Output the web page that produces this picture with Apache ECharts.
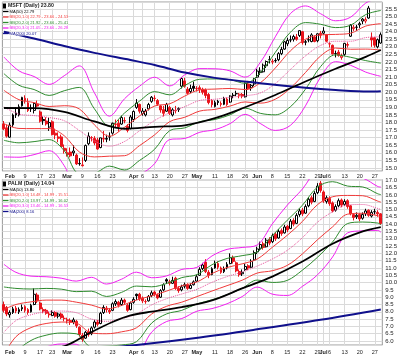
<!DOCTYPE html>
<html><head><meta charset="utf-8">
<script src="https://cdn.jsdelivr.net/npm/echarts@6/dist/echarts.min.js"></script>
<style>html,body{margin:0;padding:0;background:#fff}#c{width:400px;height:360px}</style>
</head><body><div id="c"></div>
<script>
// ---------- categories (trading days) ----------
const firstDay = '2009-01-29', lastDay = '2009-07-29';
const holidays = ['2009-02-16','2009-04-10','2009-05-25','2009-07-03'];
const dates = [];
for (let d = new Date(firstDay + 'T00:00:00Z'); d <= new Date(lastDay + 'T00:00:00Z'); d.setUTCDate(d.getUTCDate() + 1)) {
  const wd = d.getUTCDay(), s = d.toISOString().slice(0, 10);
  if (wd === 0 || wd === 6 || holidays.includes(s)) continue;
  dates.push(s);
}
const N = dates.length;

// ---------- tick labels ----------
const tickDates = ['2009-02-02','2009-02-09','2009-02-17','2009-02-23','2009-03-02','2009-03-09','2009-03-16','2009-03-23','2009-04-01','2009-04-06','2009-04-13','2009-04-20','2009-04-27','2009-05-01','2009-05-11','2009-05-18','2009-05-26','2009-06-01','2009-06-08','2009-06-15','2009-06-22','2009-06-29','2009-07-01','2009-07-06','2009-07-13','2009-07-20','2009-07-27'];
const tickLabels = ['Feb','9','17','23','Mar','9','16','23','Apr','6','13','20','27','May','11','18','26','Jun','8','15','22','29','Jul','6','13','20','27'];

// ---------- MSFT [open, close, low, high] ----------
const msftOHLC = [
[17.90,17.59,17.50,18.10],[17.65,17.10,17.00,17.85],[17.03,17.83,17.00,18.00],[17.85,18.50,17.70,18.60],[18.50,18.63,18.30,19.00],
[18.50,19.04,18.40,19.20],[19.10,19.66,19.05,19.70],[19.60,19.44,19.25,19.80],[19.30,18.80,18.70,19.60],[18.90,18.95,18.70,19.20],
[18.80,19.26,18.60,19.35],[19.20,19.09,19.00,19.45],[18.70,18.09,18.00,18.80],[18.20,18.12,17.85,18.40],[18.10,17.91,17.80,18.35],
[17.70,18.00,17.45,18.30],[18.05,17.21,17.15,18.15],[17.30,17.17,16.90,17.60],[17.05,16.96,16.70,17.35],[17.05,16.42,16.40,17.20],
[16.30,16.15,15.95,16.55],[16.00,15.88,15.75,16.30],[16.05,15.80,15.70,16.35],[16.00,16.12,15.80,16.50],[15.85,15.27,15.20,15.95],
[15.30,15.28,15.15,15.65],[15.20,15.15,15.10,15.70],[15.50,16.48,15.40,16.55],[16.60,17.11,16.50,17.35],[17.00,17.01,16.75,17.10],
[16.95,16.65,16.50,17.10],[16.85,16.25,16.20,17.00],[16.35,16.99,16.30,17.00],[16.95,16.91,16.70,17.45],[16.90,16.95,16.70,17.20],
[17.05,17.06,16.80,17.35],[17.30,17.95,17.20,18.00],[17.90,17.88,17.65,18.20],[17.95,17.72,17.40,18.20],[17.90,18.33,17.85,18.45],
[18.10,18.13,17.95,18.35],[17.75,17.48,17.35,17.90],[17.60,18.37,17.55,18.50],[18.20,18.73,18.05,18.80],[19.00,19.29,18.90,19.55],
[19.20,18.75,18.60,19.25],[18.60,18.76,18.45,18.95],[18.50,18.76,18.40,18.90],[18.90,19.19,18.80,19.30],[19.40,19.67,19.30,19.75],
[19.60,19.59,19.40,19.80],[19.45,19.21,19.10,19.55],[19.10,18.83,18.65,19.15],[18.85,18.61,18.40,19.10],[18.75,19.20,18.70,19.30],
[19.00,18.61,18.50,19.10],[18.50,18.84,18.40,18.95],[18.80,18.78,18.60,19.10],[18.85,18.92,18.70,19.00],[20.40,20.91,20.25,21.00],
[20.75,20.40,20.30,20.95],[20.20,19.93,19.85,20.35],[20.05,20.25,19.95,20.50],[20.40,20.26,20.05,20.70],[20.25,20.24,20.05,20.40],
[20.30,20.19,19.95,20.45],[20.20,20.00,19.85,20.30],[20.15,19.79,19.60,20.25],[19.85,19.32,19.20,19.95],[19.45,19.18,19.00,19.55],
[19.05,19.32,19.00,19.45],[19.40,19.32,19.15,19.50],[19.25,19.20,19.05,19.40],[19.20,19.59,19.15,19.70],[19.55,19.19,19.10,19.65],
[19.35,19.75,19.30,19.80],[19.80,19.79,19.60,19.95],[19.90,19.91,19.75,20.10],[19.80,19.87,19.60,19.95],[19.85,19.75,19.60,19.95],
[19.70,20.60,19.65,20.65],[20.55,20.23,20.15,20.75],[20.30,20.45,20.10,20.55],[20.55,20.89,20.40,20.95],[21.00,21.40,20.95,21.55],
[21.30,21.40,21.15,21.65],[21.35,21.79,21.30,21.90],[21.75,22.03,21.60,22.10],[22.15,22.14,21.90,22.40],[22.00,22.05,21.85,22.20],
[22.10,22.08,21.95,22.25],[22.15,22.55,22.05,22.65],[22.55,22.83,22.45,23.00],[22.85,23.33,22.80,23.40],[23.20,23.42,23.05,23.60],
[23.45,23.46,23.30,23.75],[23.50,23.68,23.35,23.80],[23.65,23.50,23.40,23.85],[23.75,24.07,23.65,24.10],[24.00,23.28,23.15,24.05],
[23.30,23.34,23.10,23.45],[23.45,23.47,23.30,23.75],[23.35,23.79,23.30,23.90],[23.65,23.35,23.30,23.75],[23.40,23.86,23.30,23.90],
[23.90,23.77,23.55,24.05],[23.90,24.04,23.80,24.30],[23.80,23.37,23.30,23.85],[23.20,23.20,22.95,23.30],[23.10,22.53,22.50,23.15],
[22.55,22.56,22.30,22.75],[22.65,22.44,22.35,22.80],[22.30,22.39,22.15,22.55],[22.50,23.23,22.40,23.25],[23.15,23.11,22.95,23.30],
[23.70,24.44,23.65,24.50],[24.20,24.29,24.05,24.45],[24.30,24.29,24.05,24.45],[24.45,24.53,24.25,24.65],[24.70,24.83,24.50,24.90],
[24.70,24.80,24.55,24.95],[24.90,25.56,24.85,25.70],[23.60,23.45,23.00,23.95],[23.60,23.11,22.95,23.65],[23.00,23.47,22.90,23.55],
[23.25,23.80,23.20,23.95]
];
const msftBBIdx = [0,5,10,15,20,25,30,35,40,45,50,55,60,65,70,75,80,85,90,95,100,105,110,115,120,125];
const msftBBMid = [19.03,18.56,18.46,18.33,18.12,17.48,16.79,16.44,16.75,17.46,18.14,18.65,19.05,19.46,19.54,19.67,19.77,19.95,20.57,21.50,22.40,23.09,23.37,23.37,23.61,23.66];
const msftBBSd  = [1.10,0.95,0.86,0.73,0.99,1.42,1.06,0.66,0.94,0.98,0.95,0.59,0.70,0.70,0.67,0.58,0.41,0.67,1.03,1.23,1.10,0.70,0.45,0.53,0.76,0.87];
const msftMA50Idx = [0,10,20,30,40,50,60,70,80,90,100,110,120,125];
const msftMA50 = [18.96,18.95,18.70,18.07,17.59,17.72,17.82,18.29,19.01,19.82,20.71,21.55,22.34,22.79];
const msftMA200Idx = [0,10,20,30,42,50,60,70,85,100,110,121,125];
const msftMA200 = [24.00,23.55,23.05,22.60,22.13,21.80,21.30,20.95,20.60,20.30,20.15,20.05,20.07];

// ---------- PALM [open, close, low, high] ----------
const palmOHLC = [
[8.50,8.10,7.95,8.70],[8.30,7.85,7.70,8.40],[7.80,7.95,7.60,8.10],[7.95,8.20,7.85,8.35],[8.25,8.05,7.90,8.40],
[8.00,8.15,7.85,8.30],[8.20,8.30,8.05,8.50],[8.35,8.10,7.95,8.45],[8.15,7.95,7.80,8.25],[8.00,8.45,7.95,8.55],
[8.50,9.20,8.45,9.60],[9.15,8.75,8.60,9.30],[8.60,8.20,8.10,8.70],[8.15,8.05,7.90,8.30],[8.10,7.90,7.80,8.20],
[7.85,7.80,7.60,8.00],[7.75,7.95,7.70,8.10],[7.95,7.70,7.60,8.05],[7.70,7.85,7.55,7.95],[7.85,7.60,7.50,7.95],
[7.55,7.55,7.35,7.75],[7.45,7.40,7.20,7.60],[7.40,7.30,7.10,7.55],[7.30,7.45,7.15,7.60],[7.35,7.05,6.90,7.45],
[6.95,6.45,6.30,7.00],[6.40,6.10,5.95,6.55],[6.20,6.60,6.15,6.70],[6.65,6.45,6.30,6.85],[6.50,6.90,6.40,7.00],
[6.95,7.30,6.85,7.45],[7.30,7.15,7.00,7.45],[7.20,7.90,7.15,8.00],[7.95,8.30,7.85,8.45],[8.25,8.15,7.95,8.40],
[8.10,8.00,7.85,8.25],[8.10,8.55,8.05,8.65],[8.55,8.70,8.40,8.85],[8.65,8.45,8.30,8.75],[8.50,8.80,8.40,8.95],
[8.80,8.65,8.50,8.90],[8.45,8.10,8.00,8.55],[8.15,8.60,8.10,8.70],[8.65,8.85,8.55,9.00],[9.20,9.10,8.80,9.25],
[9.20,8.90,8.75,9.30],[8.95,8.75,8.60,9.05],[8.70,8.70,8.55,8.85],[8.75,9.05,8.70,9.15],[9.10,9.30,9.00,9.45],
[9.35,9.20,9.05,9.45],[9.15,8.95,8.85,9.25],[9.00,9.45,8.95,9.55],[9.50,9.85,9.40,9.95],[10.20,10.10,9.90,10.30],
[10.05,9.95,9.80,10.20],[9.95,10.15,9.90,10.40],[10.30,9.60,9.50,10.40],[9.60,9.45,9.30,9.75],[9.50,9.70,9.40,9.85],
[9.75,9.85,9.60,10.00],[9.85,9.60,9.50,9.95],[9.60,9.80,9.55,9.95],[9.85,10.05,9.80,10.15],[10.10,10.40,10.05,10.55],
[10.50,10.90,10.45,11.05],[10.95,11.20,10.85,11.35],[11.40,10.75,10.65,11.60],[10.70,10.50,10.30,10.85],[10.55,10.95,10.50,11.05],
[11.00,11.30,10.95,11.50],[11.30,11.05,10.90,11.45],[11.00,10.70,10.60,11.10],[10.75,10.95,10.65,11.10],[11.00,11.25,10.90,11.40],
[11.30,11.70,11.25,12.00],[11.70,11.45,11.30,11.85],[11.35,10.80,10.70,11.45],[10.75,10.55,10.40,10.90],[10.60,10.70,10.45,10.90],
[10.90,11.10,10.80,11.30],[11.15,11.00,10.85,11.25],[11.05,11.45,11.00,11.60],[11.55,12.05,11.50,12.20],[12.10,12.30,11.95,12.45],
[12.35,12.60,12.20,12.80],[12.65,12.40,12.25,12.80],[12.45,12.90,12.40,13.05],[12.95,12.70,12.55,13.10],[12.80,13.20,12.70,13.35],
[13.30,13.00,12.85,13.45],[13.05,13.50,13.00,13.65],[13.55,13.35,13.20,13.70],[13.40,13.80,13.35,13.95],[13.85,13.60,13.45,13.95],
[13.70,14.20,13.65,14.35],[14.25,14.00,13.85,14.40],[14.05,14.60,14.00,14.75],[14.65,14.90,14.50,15.05],[14.95,14.70,14.55,15.10],
[14.75,15.20,14.70,15.35],[15.25,15.70,15.15,15.85],[15.80,15.50,15.35,15.95],[15.55,16.10,15.50,16.25],[16.15,16.60,16.05,16.80],
[16.80,16.30,16.15,16.95],[16.20,15.60,15.45,16.30],[15.55,15.80,15.40,15.95],[15.75,15.40,15.25,15.90],[15.45,14.90,14.80,15.55],
[14.95,15.20,14.85,15.35],[15.25,15.60,15.15,15.75],[15.65,15.30,15.15,15.75],[15.35,15.55,15.25,15.70],[15.60,15.20,15.05,15.70],
[15.25,14.70,14.60,15.30],[14.65,14.45,14.25,14.75],[14.50,14.60,14.35,14.80],[14.65,14.35,14.20,14.75],[14.40,14.65,14.30,14.80],
[14.70,14.90,14.55,15.05],[14.95,14.60,14.50,15.00],[14.55,14.80,14.45,14.95],[14.85,14.85,14.65,15.05],[14.80,14.70,14.50,14.95],
[14.70,14.04,13.95,14.75]
];
const palmBBIdx = [0,4,9,14,19,24,29,34,39,44,49,54,59,64,69,74,79,84,89,94,99,104,109,114,119,124,125];
const palmBBMid = [6.60,7.40,7.80,8.00,8.05,7.94,7.51,7.35,7.53,7.86,8.47,8.90,9.22,9.54,10.02,10.41,10.72,11.13,11.61,12.21,13.07,14.13,14.84,15.32,15.34,15.07,14.99];
const palmBBSd  = [1.55,1.10,0.88,0.80,0.75,0.72,0.95,0.85,0.90,0.95,0.62,0.52,0.56,0.50,0.60,0.62,0.56,0.48,0.80,1.03,1.11,1.20,1.03,0.64,0.60,0.50,0.515];
const palmMA50Idx = [0,10,21,28,36,42,49,59,69,79,89,99,109,119,125];
const palmMA50 = [4.60,5.10,5.73,6.50,7.30,7.75,8.01,8.32,8.78,9.60,10.41,11.44,12.66,13.50,13.80];
const palmMA200Idx = [0,30,44,65,84,105,125];
const palmMA200 = [5.00,5.45,5.73,6.25,6.80,7.45,8.16];

// ---------- legend texts ----------
const msftLegend = ['MSFT (Daily) 23.80','MA(50) 22.79','BB(20,1.0) 22.79 - 23.66 - 24.53','BB(20,2.0) 21.92 - 23.66 - 25.41','BB(20,3.0) 21.05 - 23.66 - 26.28','MA(200) 20.07'];
const palmLegend = ['PALM (Daily) 14.04','MA(50) 13.80','BB(20,1.0) 14.48 - 14.99 - 15.51','BB(20,2.0) 13.97 - 14.99 - 16.02','BB(20,3.0) 13.46 - 14.99 - 16.53','MA(200) 8.16'];

// ---------- styling ----------
const FONT = 'Liberation Sans, Arial, sans-serif';
const C = { red: '#f03a3a', green: '#2e8b2e', mag: '#f020f0', navy: '#10108c', black: '#000', mid: '#e8509a', up: '#000', down: '#e8141c', grid: '#dadada', border: '#9a9a9a' };
const legendColors = ['#222', C.black, C.red, C.green, C.mag, C.navy];

const tickIdx = new Set(tickDates.map(d => dates.indexOf(d)));

function sparse(idx, vals) {
  const a = new Array(N).fill(null);
  idx.forEach((k, j) => { a[k] = vals[j]; });
  return a;
}
function candleData(rows) {
  return rows.map((r, i) => {
    const [o, c] = r;
    const prev = i > 0 ? rows[i - 1][1] : o;
    const col = c < prev ? C.down : C.up;
    const fill = c > o ? '#fff' : col;
    return { value: r, itemStyle: { color: fill, color0: fill, borderColor: col, borderColor0: col, borderWidth: 1 } };
  });
}
function lineS(g, data, color, width, type, z) {
  return { type: 'line', xAxisIndex: g, yAxisIndex: g, data, connectNulls: true, showSymbol: false, smooth: 0.35, silent: true,
    clip: true, lineStyle: { color, width, type: type || 'solid' }, z: z || 3, animation: false };
}
function panelSeries(g, ohlc, bbIdx, bbMid, bbSd, ma50Idx, ma50, ma200Idx, ma200) {
  const band = k => [sparse(bbIdx, bbMid.map((m, j) => +(m + k * bbSd[j]).toFixed(3))), sparse(bbIdx, bbMid.map((m, j) => +(m - k * bbSd[j]).toFixed(3)))];
  const s = [];
  s.push({ type: 'candlestick', xAxisIndex: g, yAxisIndex: g, data: candleData(ohlc), barWidth: 2.4, z: 2, animation: false, silent: true });
  const [m3u, m3l] = band(3), [g2u, g2l] = band(2), [r1u, r1l] = band(1);
  s.push(lineS(g, m3u, C.mag, 1), lineS(g, m3l, C.mag, 1));
  s.push(lineS(g, g2u, C.green, 1), lineS(g, g2l, C.green, 1));
  s.push(lineS(g, r1u, C.red, 1), lineS(g, r1l, C.red, 1));
  s.push(lineS(g, sparse(bbIdx, bbMid), C.mid, 1, 'dotted'));
  s.push(lineS(g, sparse(ma200Idx, ma200), C.navy, 2, 'solid', 4));
  s.push(lineS(g, sparse(ma50Idx, ma50), C.black, 1.8, 'solid', 4));
  return s;
}
function xAxisCfg(g, margin) {
  return {
    type: 'category', gridIndex: g, data: dates, boundaryGap: true,
    axisLine: { show: false }, axisTick: { show: false },
    axisLabel: {
      interval: i => tickIdx.has(i), margin, fontSize: 5.5, color: '#222', fontFamily: FONT,
      formatter: v => { const t = tickLabels[tickDates.indexOf(v)]; return isNaN(+t) ? '{b|' + t + '}' : t; },
      rich: { b: { fontWeight: 'bold', fontSize: 5.5, color: '#222', fontFamily: FONT } }
    },
    splitLine: { show: true, interval: i => tickIdx.has(i), alignWithLabel: true, lineStyle: { color: C.grid, width: 1 } }
  };
}
function yAxisCfg(g, min, max) {
  return {
    type: 'value', gridIndex: g, position: 'right', min, max, minInterval: 0.5, maxInterval: 0.5,
    axisLine: { show: false }, axisTick: { show: false },
    axisLabel: { fontSize: 6, color: '#222', margin: 3, fontFamily: FONT,
      formatter: v => (Math.abs(v * 2 - Math.round(v * 2)) < 1e-6 ? v.toFixed(1) : '') },
    splitLine: { show: true, lineStyle: { color: C.grid, width: 1 } }
  };
}
function legendGraphics(lines, y0) {
  const out = [];
  lines.forEach((t, i) => {
    const y = y0 + i * 5.5;
    if (i === 0) {
      out.push({ type: 'rect', shape: { x: 3, y: y - 2.5, width: 3, height: 5 }, style: { fill: '#000' }, z: 100 });
      out.push({ type: 'text', x: 8, y, style: { text: t, fill: legendColors[i], font: 'bold 5.2px ' + FONT, verticalAlign: 'middle', backgroundColor: '#fff' }, z: 100 });
    } else {
      out.push({ type: 'line', shape: { x1: 3, y1: y, x2: 8.5, y2: y }, style: { stroke: legendColors[i], lineWidth: 1.3 }, z: 100 });
      out.push({ type: 'text', x: 9.5, y, style: { text: t, fill: legendColors[i], font: '4.1px ' + FONT, verticalAlign: 'middle', backgroundColor: '#fff' }, z: 100 });
    }
  });
  return out;
}

const chart = echarts.init(document.getElementById('c'), null, { renderer: 'canvas' });
chart.setOption({
  animation: false,
  backgroundColor: '#fff',
  grid: [
    { left: 2.4, top: 2, width: 381, height: 169, show: true, borderColor: C.border, borderWidth: 1, backgroundColor: '#fff' },
    { left: 2.4, top: 179.5, width: 381, height: 165.5, show: true, borderColor: C.border, borderWidth: 1, backgroundColor: '#fff' }
  ],
  xAxis: [xAxisCfg(0, 2), xAxisCfg(1, 4)],
  yAxis: [yAxisCfg(0, 14.8, 25.96), yAxisCfg(1, 5.73, 17.05)],
  series: [
    ...panelSeries(0, msftOHLC, msftBBIdx, msftBBMid, msftBBSd, msftMA50Idx, msftMA50, msftMA200Idx, msftMA200),
    ...panelSeries(1, palmOHLC, palmBBIdx, palmBBMid, palmBBSd, palmMA50Idx, palmMA50, palmMA200Idx, palmMA200)
  ],
  graphic: [...legendGraphics(msftLegend, 6), ...legendGraphics(palmLegend, 184)]
});
</script>
</body></html>
